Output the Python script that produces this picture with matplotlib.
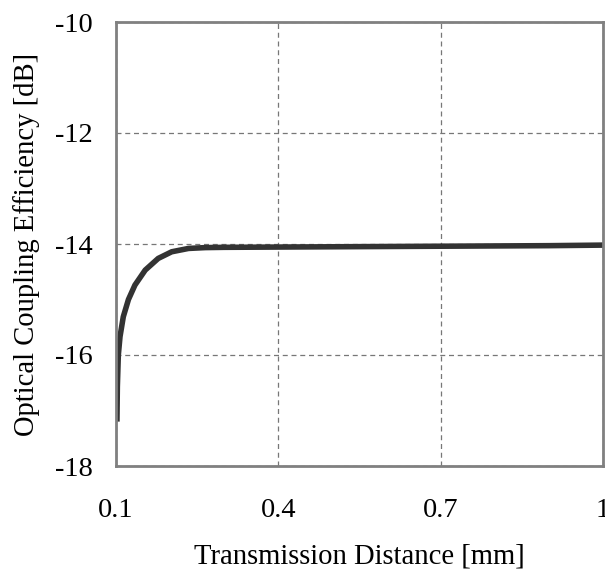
import matplotlib
matplotlib.use("Agg")
import matplotlib.pyplot as plt

distance_mm = [0.1017, 0.1025, 0.1043, 0.1074, 0.1135, 0.123, 0.135, 0.154, 0.178, 0.203,
               0.234, 0.265, 0.300, 0.400, 0.500, 0.600, 0.700, 0.800, 0.900, 1.000]
efficiency_db = [-17.20, -16.57, -16.00, -15.67, -15.31, -15.00, -14.74, -14.47, -14.26, -14.14,
                 -14.08, -14.065, -14.06, -14.055, -14.05, -14.045, -14.04, -14.035, -14.03, -14.02]

x_ticks = [0.1, 0.4, 0.7, 1.0]
x_ticklabels = ["0.1", "0.4", "0.7", "1"]
y_ticks = [-18, -16, -14, -12, -10]

plt.rcParams['font.family'] = ['Liberation Serif', 'DejaVu Serif']
plt.rcParams['axes.unicode_minus'] = False

fig = plt.figure(figsize=(6.05, 5.74), dpi=100)
ax = fig.add_axes([116/605, 108/574, 487/605, 444/574])

ax.plot(distance_mm, efficiency_db, color='#333333', linewidth=4.0,
        solid_capstyle='butt', solid_joinstyle='round')

ax.set_xlim(0.1, 1.0)
ax.set_ylim(-18, -10)
ax.set_xticks(x_ticks)
ax.set_xticklabels(x_ticklabels)
ax.set_yticks(y_ticks)
ax.tick_params(length=0, labelsize=20.5, colors='black')
ax.tick_params(axis='x', pad=23)
ax.tick_params(axis='y', pad=16.5)
ax.grid(True, linestyle=(0, (4, 3)), color='#777777', linewidth=0.9)
for s in ax.spines.values():
    s.set_color('#808080')
    s.set_linewidth(2)

ax.set_xlabel("Transmission Distance [mm]", fontsize=20.6, labelpad=15)
ax.set_ylabel("Optical Coupling Efficiency [dB]", fontsize=20.6, labelpad=11)

fig.savefig("out.png", dpi=100)
